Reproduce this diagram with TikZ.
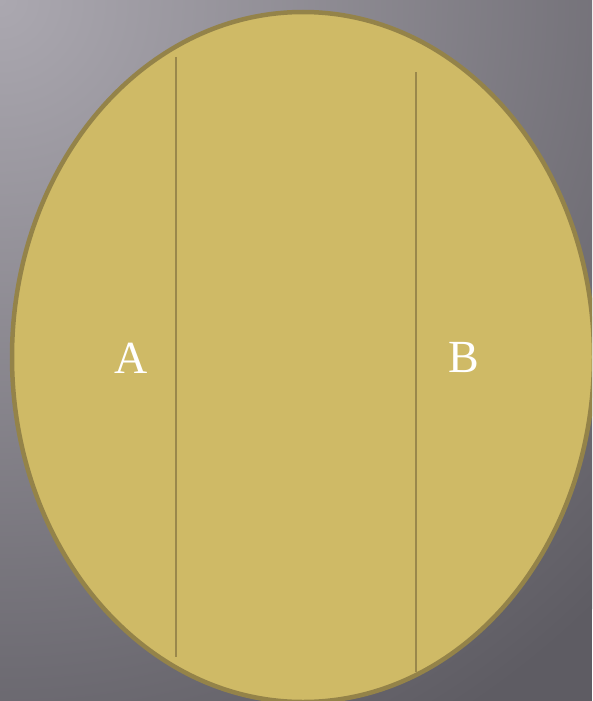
\documentclass[tikz,border=0pt]{standalone}
\usepackage{fontspec}
\setmainfont{Liberation Serif}
\definecolor{bgdark}{HTML}{5E5C63}
\definecolor{bglight}{HTML}{ABA8B0}
\definecolor{ellfill}{HTML}{CFBA66}
\definecolor{ellline}{HTML}{948349}
\definecolor{divline}{HTML}{9A884B}
\tikzset{
  divider/.style={draw=divline, line width=2pt},
  label/.style={text=white, font=\fontsize{46}{50}\selectfont, inner sep=0pt}
}
\begin{document}
\begin{tikzpicture}[x=1pt,y=-1pt]
\useasboundingbox (0,0) rectangle (592,701);
\begin{scope}
\clip (0,0) rectangle (592,701);
\fill[bgdark] (0,0) rectangle (592,701);
\shade[inner color=bglight, outer color=bgdark] (0,0) circle (850);
\fill[ellfill, draw=ellline, line width=4.5pt] (303,357) ellipse (291 and 345);
\end{scope}
\coordinate (a1) at (176,57);
\coordinate (a2) at (176,657);
\coordinate (b1) at (416,72);
\coordinate (b2) at (416,672);
\draw[divider] (a1) -- (a2);
\draw[divider] (b1) -- (b2);
\node[label] (A) at (131,358) {A};
\node[label] (B) at (464,358) {B};
\end{tikzpicture}
\end{document}
